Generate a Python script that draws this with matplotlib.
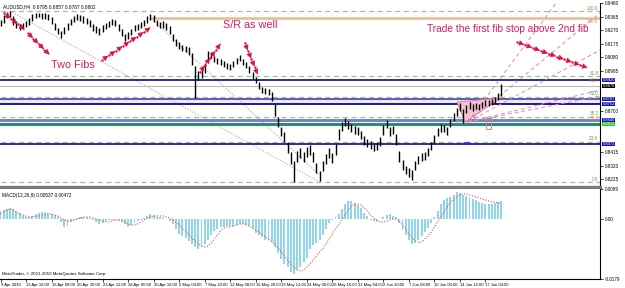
import matplotlib
matplotlib.use('Agg')
import matplotlib.pyplot as plt
import matplotlib.transforms as mtrans
from matplotlib.patches import Polygon, Rectangle
import numpy as np

plt.rcParams['font.family'] = ['Liberation Sans', 'DejaVu Sans']

# ---------------- data (AUDUSD H4; one entry = 2 H4 bars) -------------
highs = [
    0.9340, 0.9375, 0.9396, 0.9403, 0.9368, 0.9333, 0.9312, 0.9319, 0.9333, 0.9354,
    0.9382, 0.9389, 0.9389, 0.9389, 0.9389, 0.9382, 0.9361, 0.9319, 0.9284, 0.9263,
    0.9291, 0.9319, 0.9347, 0.9368, 0.9382, 0.9375, 0.9368, 0.9354, 0.9340, 0.9312,
    0.9298, 0.9284, 0.9305, 0.9319, 0.9333, 0.9347, 0.9340, 0.9312, 0.9277, 0.9242,
    0.9256, 0.9277, 0.9305, 0.9312, 0.9326, 0.9340, 0.9368, 0.9382, 0.9375, 0.9340,
    0.9326, 0.9333, 0.9319, 0.9298, 0.9242, 0.9207, 0.9186, 0.9165, 0.9158, 0.9151,
    0.9109, 0.9018, 0.8983, 0.8990, 0.9039, 0.9123, 0.9116, 0.9088, 0.9074, 0.9067,
    0.9053, 0.9039, 0.9032, 0.9053, 0.9074, 0.9095, 0.9067, 0.9046, 0.9018, 0.8976,
    0.8941, 0.8906, 0.8871, 0.8864, 0.8857, 0.8836, 0.8752, 0.8661, 0.8591, 0.8556,
    0.8486, 0.8416, 0.8353, 0.8423, 0.8444, 0.8416, 0.8451, 0.8465, 0.8416, 0.8339,
    0.8283, 0.8353, 0.8402, 0.8444, 0.8409, 0.8472, 0.8577, 0.8626, 0.8654, 0.8633,
    0.8612, 0.8598, 0.8591, 0.8563, 0.8528, 0.8507, 0.8493, 0.8479, 0.8486, 0.8521,
    0.8605, 0.8640, 0.8591, 0.8598, 0.8542, 0.8423, 0.8360, 0.8318, 0.8304, 0.8290,
    0.8353, 0.8388, 0.8409, 0.8416, 0.8444, 0.8486, 0.8535, 0.8584, 0.8612, 0.8605,
    0.8591, 0.8647, 0.8689, 0.8724, 0.8759, 0.8717, 0.8745, 0.8766, 0.8752, 0.8759,
    0.8752, 0.8766, 0.8780, 0.8780, 0.8787, 0.8801, 0.8829, 0.8892]
lows = [
    0.9298, 0.9319, 0.9354, 0.9361, 0.9305, 0.9284, 0.9270, 0.9277, 0.9291, 0.9305,
    0.9333, 0.9354, 0.9361, 0.9347, 0.9347, 0.9340, 0.9312, 0.9270, 0.9242, 0.9214,
    0.9242, 0.9270, 0.9305, 0.9326, 0.9340, 0.9333, 0.9319, 0.9312, 0.9291, 0.9263,
    0.9249, 0.9235, 0.9256, 0.9277, 0.9291, 0.9305, 0.9298, 0.9263, 0.9228, 0.9193,
    0.9207, 0.9235, 0.9263, 0.9270, 0.9284, 0.9298, 0.9319, 0.9340, 0.9326, 0.9298,
    0.9284, 0.9284, 0.9270, 0.9242, 0.9193, 0.9158, 0.9137, 0.9123, 0.9116, 0.9095,
    0.9025, 0.8794, 0.8920, 0.8934, 0.8969, 0.9060, 0.9074, 0.9046, 0.9032, 0.9025,
    0.9011, 0.8997, 0.8990, 0.9011, 0.9032, 0.9053, 0.9025, 0.9004, 0.8969, 0.8927,
    0.8899, 0.8857, 0.8829, 0.8822, 0.8815, 0.8773, 0.8668, 0.8591, 0.8528, 0.8486,
    0.8409, 0.8332, 0.8206, 0.8346, 0.8374, 0.8346, 0.8381, 0.8395, 0.8346, 0.8269,
    0.8213, 0.8283, 0.8332, 0.8374, 0.8339, 0.8395, 0.8500, 0.8563, 0.8598, 0.8577,
    0.8556, 0.8542, 0.8535, 0.8507, 0.8465, 0.8451, 0.8437, 0.8423, 0.8430, 0.8458,
    0.8535, 0.8584, 0.8528, 0.8542, 0.8465, 0.8346, 0.8290, 0.8262, 0.8241, 0.8220,
    0.8290, 0.8332, 0.8353, 0.8360, 0.8388, 0.8430, 0.8479, 0.8528, 0.8556, 0.8556,
    0.8535, 0.8591, 0.8633, 0.8668, 0.8703, 0.8619, 0.8689, 0.8717, 0.8703, 0.8717,
    0.8710, 0.8724, 0.8738, 0.8738, 0.8745, 0.8759, 0.8780, 0.8808]
last_close = 0.8878

macd_main = [
    0.0024, 0.0027, 0.0030, 0.0033, 0.0030, 0.0024, 0.0018, 0.0009, 0.0006, 0.0006,
    0.0009, 0.0015, 0.0018, 0.0021, 0.0021, 0.0018, 0.0015, 0.0012, 0.0006, -0.0009,
    -0.0024, -0.0021, -0.0009, -0.0003, 0.0003, 0.0006, 0.0006, 0.0006, 0.0003, -0.0003,
    -0.0009, -0.0015, -0.0012, -0.0006, -0.0003, -0.0002, -0.0002, -0.0004, -0.0009, -0.0015,
    -0.0024, -0.0018, -0.0012, -0.0006, -0.0003, 0.0003, 0.0009, 0.0015, 0.0012, 0.0006,
    0.0006, 0.0003, -0.0001, -0.0006, -0.0015, -0.0030, -0.0045, -0.0051, -0.0057, -0.0066,
    -0.0075, -0.0084, -0.0090, -0.0084, -0.0075, -0.0063, -0.0048, -0.0036, -0.0030, -0.0024,
    -0.0024, -0.0021, -0.0021, -0.0021, -0.0018, -0.0015, -0.0015, -0.0018, -0.0021, -0.0027,
    -0.0042, -0.0048, -0.0054, -0.0063, -0.0066, -0.0069, -0.0084, -0.0102, -0.0120, -0.0135,
    -0.0144, -0.0159, -0.0165, -0.0153, -0.0144, -0.0129, -0.0117, -0.0090, -0.0078, -0.0072,
    -0.0063, -0.0048, -0.0030, -0.0012, -0.0003, 0.0006, 0.0015, 0.0030, 0.0045, 0.0054,
    0.0054, 0.0048, 0.0042, 0.0033, 0.0018, 0.0009, -0.0002, -0.0006, -0.0006, 0.0001,
    0.0006, 0.0012, 0.0015, 0.0009, 0.0006, -0.0012, -0.0033, -0.0048, -0.0063, -0.0075,
    -0.0072, -0.0063, -0.0051, -0.0039, -0.0027, -0.0012, 0.0006, 0.0024, 0.0045, 0.0057,
    0.0063, 0.0066, 0.0072, 0.0081, 0.0078, 0.0072, 0.0069, 0.0066, 0.0060, 0.0057,
    0.0051, 0.0048, 0.0045, 0.0045, 0.0045, 0.0048, 0.0051, 0.0054]
macd_signal = [
    0.0015, 0.0021, 0.0027, 0.0030, 0.0027, 0.0021, 0.0015, 0.0012, 0.0009, 0.0006,
    0.0006, 0.0009, 0.0009, 0.0012, 0.0012, 0.0015, 0.0015, 0.0012, 0.0009, 0.0003,
    -0.0003, -0.0006, -0.0006, -0.0003, 0.0000, 0.0003, 0.0006, 0.0006, 0.0006, 0.0003,
    0.0000, -0.0003, -0.0006, -0.0009, -0.0009, -0.0006, -0.0003, -0.0003, -0.0006, -0.0009,
    -0.0015, -0.0018, -0.0018, -0.0015, -0.0009, -0.0003, 0.0003, 0.0006, 0.0009, 0.0009,
    0.0009, 0.0009, 0.0006, 0.0003, -0.0003, -0.0009, -0.0018, -0.0027, -0.0036, -0.0045,
    -0.0057, -0.0066, -0.0075, -0.0081, -0.0084, -0.0081, -0.0072, -0.0060, -0.0048, -0.0036,
    -0.0027, -0.0024, -0.0024, -0.0021, -0.0018, -0.0015, -0.0015, -0.0018, -0.0021, -0.0027,
    -0.0033, -0.0039, -0.0048, -0.0054, -0.0060, -0.0069, -0.0075, -0.0087, -0.0099, -0.0111,
    -0.0123, -0.0135, -0.0144, -0.0153, -0.0156, -0.0153, -0.0144, -0.0135, -0.0123, -0.0111,
    -0.0099, -0.0090, -0.0075, -0.0060, -0.0045, -0.0030, -0.0018, -0.0003, 0.0012, 0.0027,
    0.0039, 0.0045, 0.0045, 0.0042, 0.0033, 0.0024, 0.0012, 0.0003, -0.0006, -0.0009,
    -0.0009, -0.0006, -0.0003, 0.0000, 0.0000, -0.0006, -0.0018, -0.0030, -0.0045, -0.0057,
    -0.0066, -0.0069, -0.0069, -0.0060, -0.0051, -0.0039, -0.0024, -0.0009, 0.0006, 0.0021,
    0.0036, 0.0048, 0.0060, 0.0066, 0.0072, 0.0075, 0.0075, 0.0072, 0.0069, 0.0066,
    0.0063, 0.0060, 0.0057, 0.0054, 0.0051, 0.0051, 0.0048, 0.0047]

date_labels = ["9 Apr 2010", "13 Apr 16:00", "16 Apr 08:00", "20 Apr 20:00", "23 Apr 12:00",
               "28 Apr 00:00", "30 Apr 16:00", "5 May 04:00", "7 May 20:00", "12 May 08:00",
               "16 May 20:00", "19 May 12:00", "24 May 00:00", "26 May 16:00", "31 May 04:00",
               "2 Jun 20:00", "7 Jun 08:00", "10 Jun 00:00", "14 Jun 12:00", "17 Jun 04:00"]
bars_per_label = 8

price_ticks = [0.9460, 0.9365, 0.9270, 0.9175, 0.9080, 0.8985, 0.8890, 0.8795,
               0.8700, 0.8605, 0.8510, 0.8415, 0.8320, 0.8225]

fib1_high, fib1_low = 0.9403, 0.8206   # first fib (green dashed)
fib2_high, fib2_low = 0.9354, 0.8255   # second fib (tan)
fib_ratios = [1.0, 0.618, 0.5, 0.382, 0.236, 0.0]
fib2_labels = [1.0, 0.618, 0.382]

sr_prices = [0.8920, 0.8787, 0.8752, 0.8640, 0.8612, 0.8472]
sr_colors = ['#1c1c8e', '#3434a8', '#0a0a80', '#8080c8', '#2a8a78', '#1c1c8e']
sr_widths = [1.3, 1.1, 1.3, 2.2, 2.2, 1.3]
sr_box = ['#1414b4', '#1414b4', '#1414b4', '#1414b4', '#28c828', '#1414b4']

# ---------------- layout ----------------
W, H = 625, 288
fig = plt.figure(figsize=(W / 100, H / 100), dpi=100)
fig.patch.set_facecolor('white')


def rect(l, t, r, b):
    return [l / W, 1 - b / H, (r - l) / W, (b - t) / H]


ax = fig.add_axes(rect(0, 3, 600, 187))
axm = fig.add_axes(rect(0, 189, 600, 279))

n = len(highs)
idx = np.arange(n)
xmax = 187.9
ax.set_xlim(-0.16, xmax)
ax.set_ylim(0.8171, 0.9459)

# fib 1 levels
for r in fib_ratios:
    p = fib1_low + r * (fib1_high - fib1_low)
    ax.hlines(p, 0, xmax, colors='#9cc09c', linestyles=(0, (4, 3)), lw=0.9, zorder=1)
    ax.text(xmax - 0.5, p + 0.0003, f"{r * 100:.1f}", color='#6e9e50', fontsize=3.3,
            ha='right', va='bottom', zorder=6)
for r in fib2_labels:
    p = fib2_low + r * (fib2_high - fib2_low)
    ax.text(xmax - 0.5, p - 0.0003, f"{r * 100:.1f}", color='#e08a50', fontsize=3.3,
            ha='right', va='top', zorder=6)
ax.hlines(fib2_high, 47, xmax, colors='#ebb894', lw=1.8, zorder=1)

# fib diagonals
ax.plot([3, 100], [fib1_high, fib1_low], color='#cc9a9a', ls=(0, (1, 1.5)), lw=0.8, zorder=1)
ax.plot([47, 100], [fib2_high, fib2_low], color='#cc9a9a', ls=(0, (1, 1.5)), lw=0.8, zorder=1)

# S/R zone and lines
ax.axhspan(sr_prices[2], sr_prices[1], color='#f1e6f3', zorder=0.5, lw=0)
for p, c, w in zip(sr_prices, sr_colors, sr_widths):
    ax.axhline(p, color=c, lw=w, zorder=2)
ax.axhline(last_close, color='#bcbcbc', lw=0.8, zorder=2)

# pink triangle + fan
tri = Polygon([(143.1, 0.8766), (156.6, 0.8794), (145.6, 0.8626)], closed=True,
              facecolor='#f7c4d4', edgecolor='#e07a9c', lw=0.7, zorder=2.5)
ax.add_patch(tri)
fan_origin = (146.5, 0.8626)
fan_ends = [0.9875, 0.9389, 0.9130, 0.8850, 0.8808]
for pe in fan_ends:
    ax.plot([fan_origin[0], xmax], [fan_origin[1], pe], color='#e088b8',
            ls=(0, (4, 3)), lw=0.7, zorder=2.6)
ax.add_patch(Rectangle((152.2, 0.8577), 1.6, 0.0077, facecolor='none',
                       edgecolor='#e07a8c', lw=0.7, zorder=3))
ax.hlines(0.8479, 145, 147.3, colors='#2a2ad0', lw=1.8, zorder=3)

# price bars
ax.vlines(idx, lows, highs, colors='black', lw=1.0, zorder=4)

# arrow chains
chain_color = '#e0103c'
chains = [((1.1, 0.9389), (7.7, 0.9270)), ((8.6, 0.9249), (15.5, 0.9095)),
          ((31.8, 0.9060), (47.2, 0.9291)), ((62.5, 0.8976), (69.1, 0.9179)),
          ((76.6, 0.9179), (80.7, 0.8955)), ((161.9, 0.9186), (184.2, 0.9004))]
for (x0, y0), (x1, y1) in chains:
    d0 = ax.transData.transform((x0, y0))
    d1 = ax.transData.transform((x1, y1))
    seg = max(2, int(round(np.hypot(*(d1 - d0)) / 8)))
    xs = np.linspace(x0, x1, seg + 1)
    ys = np.linspace(y0, y1, seg + 1)
    ax.plot(xs, ys, color=chain_color, lw=0.5, ls=':', zorder=5)
    ax.plot(xs[:-1], ys[:-1], 'o', color=chain_color, ms=1.7, mew=0, zorder=5)
    for k in range(seg):
        ax.annotate('', xy=(xs[k + 1], ys[k + 1]), xytext=(xs[k], ys[k]),
                    arrowprops=dict(arrowstyle='-|>,head_length=0.32,head_width=0.16',
                                    color=chain_color, lw=0.5, shrinkA=1.5, shrinkB=0.5),
                    zorder=5)

txt_color = '#d81b64'
ax.text(22.7, 0.9025, "Two Fibs", color=txt_color, fontsize=7.8, ha='center', va='center', zorder=6)
ax.text(78.4, 0.9305, "S/R as well", color=txt_color, fontsize=7.8, ha='center', va='center', zorder=6)
ax.text(158.9, 0.9277, "Trade the first fib stop above 2nd fib", color=txt_color, fontsize=7.3,
        ha='center', va='center', zorder=6)

# axes styling main
box_prices = sr_prices + [last_close]
shown_ticks = [t for t in price_ticks if min(abs(t - b) for b in box_prices) > 0.0045]
ax.yaxis.tick_right()
ax.set_yticks(shown_ticks)
ax.set_yticklabels([f"{p:.4f}" for p in shown_ticks])
ax.tick_params(axis='y', labelsize=3.3, length=2, width=0.5, pad=1.5, direction='out')
ax.set_xticks([])
for s in ['top', 'left']:
    ax.spines[s].set_visible(False)
ax.spines['right'].set_color('black')
ax.spines['right'].set_linewidth(0.8)
ax.spines['bottom'].set_color('#7a7a7a')
ax.spines['bottom'].set_linewidth(2.4)

blend = mtrans.blended_transform_factory(ax.transAxes, ax.transData)
for p, bc in zip(sr_prices, sr_box):
    ax.text(1.004, p, f"{p:.4f}", transform=blend, color='white', fontsize=3.0, ha='left',
            va='center', clip_on=False, zorder=7,
            bbox=dict(facecolor=bc, edgecolor='none', pad=0.3))
ax.text(1.004, last_close, f"{last_close:.4f}", transform=blend, color='white', fontsize=3.0,
        ha='left', va='center', clip_on=False, zorder=7,
        bbox=dict(facecolor='black', edgecolor='none', pad=0.3))

fig.text(3 / W, 1 - 7 / H, "AUDUSD,H4  0.8795 0.8857 0.8787 0.8802", fontsize=3.4,
         ha='left', va='center', color='black')

# ---------------- MACD ----------------
axm.set_xlim(-0.16, xmax)
axm.set_ylim(-0.0180, 0.0090)
axm.bar(idx, macd_main, width=0.62, color='#8fd6ea', lw=0, zorder=2)
axm.plot(idx, macd_signal, color='#e05050', ls=(0, (1, 1.5)), lw=0.8, zorder=3)
axm.yaxis.tick_right()
axm.set_yticks([0.0089, 0.0, -0.0179])
axm.set_yticklabels(["0.0089", "0.00", "-0.0179"])
axm.tick_params(axis='y', labelsize=3.3, length=2, width=0.5, pad=1.5)
tick_pos = np.arange(len(date_labels)) * bars_per_label
axm.set_xticks(tick_pos)
axm.set_xticklabels(date_labels)
axm.tick_params(axis='x', labelsize=3.0, length=2, width=0.5, pad=0.8)
for lbl in axm.get_xticklabels():
    lbl.set_horizontalalignment('left')
for s in ['top', 'left']:
    axm.spines[s].set_visible(False)
for s in ['right', 'bottom']:
    axm.spines[s].set_color('black')
    axm.spines[s].set_linewidth(0.8)
axm.text(0.004, 0.96, "MACD(12,26,9) 0.00537 0.00472", transform=axm.transAxes, fontsize=3.4,
         ha='left', va='top')
axm.text(0.004, 0.03, "MetaTrader, \u00a9 2001-2010 MetaQuotes Software Corp.",
         transform=axm.transAxes, fontsize=3.2, ha='left', va='bottom')

fig.savefig('out.png', dpi=100, facecolor='white')
